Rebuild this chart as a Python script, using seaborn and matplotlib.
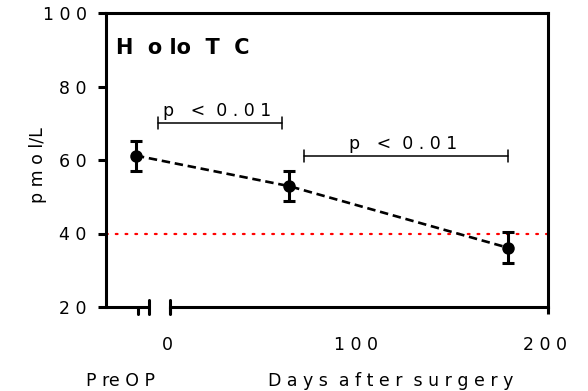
import numpy as np
import pandas as pd
import matplotlib
matplotlib.use("Agg")
import matplotlib.pyplot as plt
import matplotlib.transforms as mtransforms
import seaborn as sns

# values
days = [-18, 63, 179]            # PreOP drawn left of the axis break
holotc_mean = [61.2, 52.9, 36.1]
holotc_sem = [4.1, 4.1, 4.2]
cutoff = 40                      # red dotted reference line

# significance brackets: (x start, x end, y)
bracket_x0 = [-6.5, 70.7]
bracket_x1 = [59.5, 179]
bracket_y = [70.1, 61.1]
bracket_text = ["p   <  0 . 0 1", "p   <  0 . 0 1"]

x_ticks = [0, 100, 200]
x_ticklabels = ["0", "1 0 0", "2 0 0"]
y_ticks = [20, 40, 60, 80, 100]
y_ticklabels = ["2 0", "4 0", "6 0", "8 0", "1 0 0"]

df = pd.DataFrame({"day": days, "mean": holotc_mean, "sem": holotc_sem})

sns.set_style("white")
plt.rcParams["font.family"] = ["DejaVu Sans"]
plt.rcParams["text.color"] = "black"
plt.rcParams["axes.labelcolor"] = "black"
plt.rcParams["xtick.color"] = "black"
plt.rcParams["ytick.color"] = "black"
fs = 12.5

fig = plt.figure(figsize=(5.88, 3.91), dpi=100)
ax = fig.add_axes([106 / 588, 1 - 307 / 391, 442 / 588, 294 / 391])

# cut-off line
ax.axhline(cutoff, color="red", linestyle=(0, (0.8, 3.6)), linewidth=1.6,
           dash_capstyle="round", zorder=1)

# connecting dashed line + points
sns.lineplot(data=df, x="day", y="mean", ax=ax, color="black",
             linestyle=(0, (3.2, 1.8)), linewidth=1.9, marker="o",
             markersize=9, markeredgewidth=0, zorder=3)
ax.errorbar(df["day"], df["mean"], yerr=df["sem"], fmt="none",
            ecolor="black", elinewidth=2.2, capsize=4.3, capthick=2.2, zorder=3)

# significance brackets
for x0, x1, y, t in zip(bracket_x0, bracket_x1, bracket_y, bracket_text):
    ax.plot([x0, x1], [y, y], color="black", linewidth=1.1)
    ax.plot([x0, x0], [y - 1.6, y + 1.6], color="black", linewidth=1.1)
    ax.plot([x1, x1], [y - 1.6, y + 1.6], color="black", linewidth=1.1)
    ax.text((x0 + x1) / 2 - 1.5, y + 2.0, t, ha="center", va="baseline", fontsize=fs)

ax.set_xlim(-33.8, 200)
ax.set_ylim(20, 100)

# broken x axis
ax.spines["bottom"].set_bounds(0, 200)
for s in ["top", "left", "right", "bottom"]:
    ax.spines[s].set_linewidth(2.2)
    ax.spines[s].set_color("black")
ax.plot([-33.8, -11], [20, 20], color="black", linewidth=2.2,
        clip_on=False, solid_capstyle="butt")
ax.plot([-11, -11], [18.1, 21.9], color="black", linewidth=2.2, clip_on=False)
ax.plot([-16.9, -16.9], [18.1, 20], color="black", linewidth=2.2, clip_on=False)
ax.plot([0, 0], [18.1, 21.9], color="black", linewidth=2.2, clip_on=False)

ax.set_xticks(x_ticks)
ax.set_xticklabels(x_ticklabels, fontsize=fs)
ax.set_yticks(y_ticks)
ax.set_yticklabels(y_ticklabels, fontsize=fs)
ax.tick_params(axis="y", direction="out", length=6, width=2.2, pad=8, left=True,
               colors="black")
ax.tick_params(axis="x", direction="out", length=5, width=2.2, pad=16, bottom=True,
               colors="black")
ax.xaxis.get_major_ticks()[1].tick1line.set_visible(False)
shift = mtransforms.ScaledTranslation(-0.03, 0, fig.dpi_scale_trans)
for lab in ax.get_xticklabels():
    lab.set_transform(lab.get_transform() + shift)

ax.set_xlabel("")
ax.set_ylabel("p m o l/L", fontsize=fs, va="center", color="black")
ax.yaxis.set_label_coords(-0.1535, 0.483)

ax.text(0.022, 90.5, "H  o lo  T  C", transform=ax.get_yaxis_transform(),
        fontsize=15, fontweight="bold", va="center", ha="left", color="black")
fig.text(121 / 588, 1 - 381 / 391, "P re O P", fontsize=fs, ha="center", va="center",
         color="black")
fig.text(391 / 588, 1 - 381 / 391, "D a y s  a f t e r  s u r g e r y", fontsize=fs,
         ha="center", va="center", color="black")

fig.savefig("out.png", dpi=100)
